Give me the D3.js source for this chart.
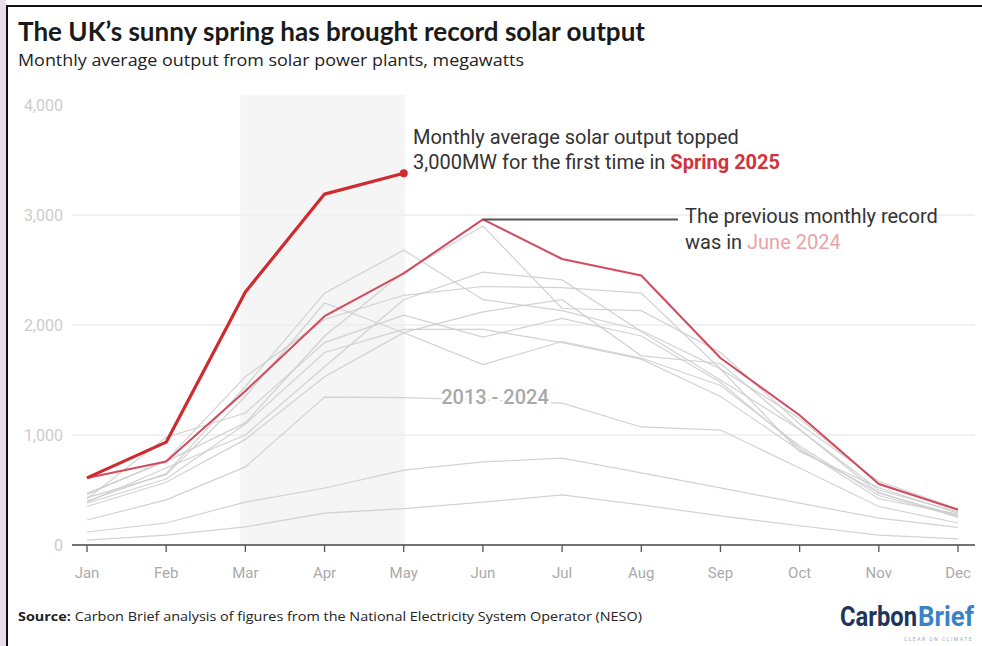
<!DOCTYPE html>
<html>
<head>
<meta charset="utf-8">
<script src="https://cdn.jsdelivr.net/npm/d3@7"></script>
<style>
  html, body { margin: 0; padding: 0; background: #ffffff; }
  svg { display: block; }
</style>
</head>
<body>
<svg id="chart" width="982" height="646"></svg>
<script>
// ---- DATA ----
const months = ["Jan","Feb","Mar","Apr","May","Jun","Jul","Aug","Sep","Oct","Nov","Dec"];
const yTicks = [0, 1000, 2000, 3000, 4000];
const gridTicks = [1000, 2000, 3000];
const springMonths = ["Mar", "May"];

const y2013 = [45, 90, 165, 290, 330, 390, 455, 365, 265, 175, 90, 55];
const y2014 = [118, 200, 390, 518, 680, 755, 790, 655, 520, 380, 245, 160];
const y2015 = [227, 410, 710, 1345, 1340, 1320, 1290, 1073, 1045, 700, 350, 200];
const y2016 = [350, 570, 960, 1530, 1930, 1640, 1850, 1700, 1450, 900, 450, 260];
const y2017 = [380, 600, 1100, 1750, 1960, 1960, 1840, 1690, 1350, 860, 480, 250];
const y2018 = [390, 700, 1000, 1620, 2230, 2480, 2410, 1940, 1500, 1050, 470, 270];
const y2019 = [420, 980, 1200, 1840, 2090, 1890, 2060, 1900, 1480, 880, 420, 280];
const y2020 = [400, 650, 1440, 2290, 2680, 2230, 2130, 1950, 1600, 850, 520, 290];
const y2021 = [430, 640, 1350, 2200, 1930, 2120, 2230, 1720, 1650, 1050, 500, 300];
const y2022 = [460, 770, 1530, 2050, 2270, 2350, 2340, 2290, 1600, 1150, 560, 320];
const y2023 = [470, 760, 1110, 1900, 2480, 2900, 2150, 2130, 1750, 1100, 580, 330];
const y2024 = [610, 760, 1400, 2080, 2470, 2960, 2600, 2450, 1700, 1180, 555, 320];
const y2025 = [610, 935, 2300, 3190, 3380];

const grayYears = [y2013, y2014, y2015, y2016, y2017, y2018, y2019, y2020, y2021, y2022, y2023];

// ---- LAYOUT ----
const svg = d3.select("#chart");
const x = d3.scalePoint().domain(months).range([87, 958]);
const y = d3.scaleLinear().domain([0, 4000]).range([545, 105]);

// left outside strip & frame
svg.append("rect").attr("x", 0).attr("y", 0).attr("width", 6).attr("height", 646).attr("fill", "#eadcea");
svg.append("line").attr("x1", 7).attr("x2", 7).attr("y1", 6).attr("y2", 646).attr("stroke", "#111").attr("stroke-width", 2);
svg.append("line").attr("x1", 6).attr("x2", 982).attr("y1", 6).attr("y2", 6).attr("stroke", "#111").attr("stroke-width", 2);

// title
svg.append("text").attr("x", 18).attr("y", 41)
  .attr("font-family", "Lato, 'Open Sans', sans-serif").attr("font-weight", 700)
  .attr("font-size", 26).attr("fill", "#1a1a1a")
  .attr("textLength", 627).attr("lengthAdjust", "spacingAndGlyphs")
  .text("The UK\u2019s sunny spring has brought record solar output");
svg.append("text").attr("x", 18).attr("y", 66)
  .attr("font-family", "'Open Sans', Lato, sans-serif")
  .attr("font-size", 16).attr("fill", "#222")
  .attr("textLength", 506).attr("lengthAdjust", "spacingAndGlyphs")
  .text("Monthly average output from solar power plants, megawatts");

// spring shading
svg.append("rect")
  .attr("x", x(springMonths[0]) - 5).attr("y", 95)
  .attr("width", x(springMonths[1]) - x(springMonths[0]) + 6)
  .attr("height", y(0) - 95)
  .attr("fill", "#f5f5f5");

// gridlines
svg.append("g").selectAll("line").data(gridTicks).join("line")
  .attr("x1", 72).attr("x2", 975)
  .attr("y1", d => y(d)).attr("y2", d => y(d))
  .attr("stroke", "#ececec").attr("stroke-width", 1.5);

// y labels
svg.append("g").selectAll("text").data(yTicks).join("text")
  .attr("x", 63).attr("y", d => y(d)).attr("dy", "0.35em")
  .attr("text-anchor", "end")
  .attr("font-family", "Roboto, sans-serif").attr("font-size", 16)
  .attr("fill", "#cccccc")
  .text(d => d3.format(",")(d));

const line = d3.line().x((d, i) => x(months[i])).y(d => y(d));

// gray lines
svg.append("g").selectAll("path").data(grayYears).join("path")
  .attr("d", line).attr("fill", "none")
  .attr("stroke", "#cdcdcd").attr("stroke-width", 1.2).attr("stroke-opacity", 0.9);

// 2013-2024 label
svg.append("text").attr("x", 495).attr("y", 397).attr("dy", "0.35em")
  .attr("text-anchor", "middle")
  .attr("font-family", "Roboto, sans-serif").attr("font-weight", 500)
  .attr("font-size", 20).attr("fill", "#a9a9a9")
  .attr("stroke", "#ffffff").attr("stroke-width", 5).attr("paint-order", "stroke")
  .text("2013 - 2024");

// 2024 line
svg.append("path").datum(y2024).attr("d", line).attr("fill", "none")
  .attr("stroke", "#d24a5c").attr("stroke-width", 2).attr("stroke-linejoin", "round");

// 2025 line
svg.append("path").datum(y2025).attr("d", line).attr("fill", "none")
  .attr("stroke", "#cf2a2f").attr("stroke-width", 3.2).attr("stroke-linejoin", "round");
svg.append("circle")
  .attr("cx", x(months[y2025.length - 1])).attr("cy", y(y2025[y2025.length - 1]))
  .attr("r", 4).attr("fill", "#cf2a2f");

// x axis
const xAxis = svg.append("g");
xAxis.append("line").attr("x1", 72).attr("x2", 975).attr("y1", y(0)).attr("y2", y(0))
  .attr("stroke", "#444").attr("stroke-width", 1.5);
xAxis.selectAll("line.tick").data(months).join("line").attr("class", "tick")
  .attr("x1", d => x(d)).attr("x2", d => x(d))
  .attr("y1", y(0)).attr("y2", y(0) + 7)
  .attr("stroke", "#555").attr("stroke-width", 1.3);
xAxis.selectAll("text").data(months).join("text")
  .attr("x", d => x(d)).attr("y", 573).attr("dy", "0.35em")
  .attr("text-anchor", "middle")
  .attr("font-family", "Roboto, sans-serif").attr("font-size", 15)
  .attr("fill", "#aaaaaa")
  .text(d => d);

// annotation: 2025
const a1 = svg.append("text").attr("font-family", "Roboto, sans-serif").attr("font-size", 20).attr("fill", "#333");
a1.append("tspan").attr("x", 413).attr("y", 144).text("Monthly average solar output topped");
a1.append("tspan").attr("x", 413).attr("y", 169).text("3,000MW for the first time in ");
a1.append("tspan").attr("font-weight", 700).attr("fill", "#d0343a").text("Spring 2025");

// annotation: June 2024 record
svg.append("line")
  .attr("x1", x("Jun")).attr("x2", 678)
  .attr("y1", y(y2024[5])).attr("y2", y(y2024[5]))
  .attr("stroke", "#555").attr("stroke-width", 2);
const a2 = svg.append("text").attr("font-family", "Roboto, sans-serif").attr("font-size", 20).attr("fill", "#333");
a2.append("tspan").attr("x", 685).attr("y", 223).text("The previous monthly record");
a2.append("tspan").attr("x", 685).attr("y", 249).text("was in ");
a2.append("tspan").attr("fill", "#eaa3a6").text("June 2024");

// footer
const f = svg.append("text").attr("x", 18).attr("y", 621)
  .attr("font-family", "'Open Sans', Lato, sans-serif").attr("font-size", 13).attr("fill", "#222")
  .attr("textLength", 624).attr("lengthAdjust", "spacingAndGlyphs");
f.append("tspan").attr("font-weight", 700).text("Source:");
f.append("tspan").text(" Carbon Brief analysis of figures from the National Electricity System Operator (NESO)");

// logo (condensed via horizontal scale)
function logoWord(word, x0, width, color) {
  const g = svg.append("g");
  const t = g.append("text").attr("x", 0).attr("y", 0)
    .attr("font-family", "Roboto, sans-serif").attr("font-weight", 700)
    .attr("font-size", 28).attr("fill", color).text(word);
  const w = t.node().getComputedTextLength() || width;
  g.attr("transform", `translate(${x0},626) scale(${width / w},1)`);
}
logoWord("Carbon", 840, 77, "#1d3557");
logoWord("Brief", 918, 56, "#3b82c4");
svg.append("text").attr("x", 973).attr("y", 641).attr("text-anchor", "end")
  .attr("font-family", "Roboto, sans-serif").attr("font-size", 5).attr("letter-spacing", 1.5)
  .attr("fill", "#9aa8b8").text("CLEAR ON CLIMATE");
</script>
</body>
</html>
